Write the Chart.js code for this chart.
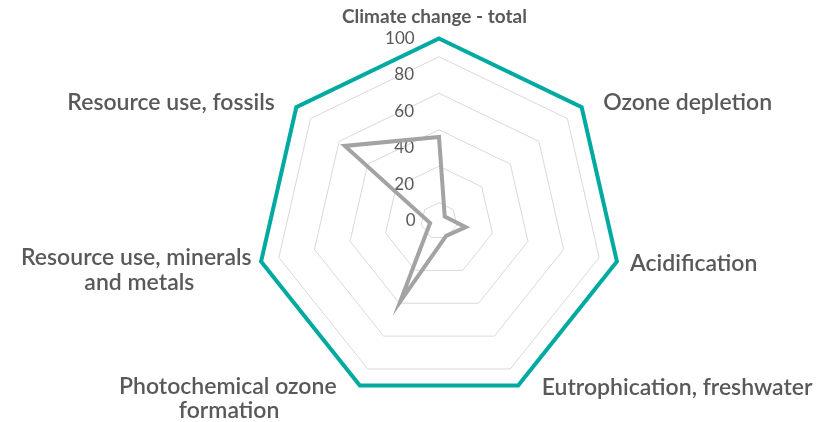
<!DOCTYPE html>
<html><head><meta charset="utf-8">
<script src="https://cdn.jsdelivr.net/npm/chart.js@4"></script>
<style>html,body{margin:0;padding:0;background:#fff;overflow:hidden;width:825px;height:422px}
#wrap{position:relative;width:825px;height:422px;overflow:hidden}
canvas{display:block;position:absolute;left:-20px;top:0}</style>
</head><body>
<div id="wrap"><canvas id="c" width="918" height="425"></canvas></div>
<script>
// ---- data ----
const categories = ['Climate change - total', 'Ozone depletion', 'Acidification', 'Eutrophication, freshwater', 'Photochemical ozone formation', 'Resource use, minerals and metals', 'Resource use, fossils'];
const categoryLines = [['Climate change - total'], ['Ozone depletion'], ['Acidification'], ['Eutrophication, freshwater'], ['Photochemical ozone', 'formation'], ['Resource use, minerals', 'and metals'], ['Resource use, fossils']];
const referenceValues = [100, 100, 100, 100, 100, 100, 100];
const productValues = [46, 4, 15, 9, 49, 5, 66];
const tickLabelValues = [0, 20, 40, 60, 80, 100];
const gridValues = [10, 30, 50, 70, 90];

// ---- styling / layout ----
const FAMILY = 'Lato, "Open Sans", sans-serif';
const TEXT = '#595959';
const labelStyle = [
  {size: 19, weight: 'bold', lh: '2px', pad: 13, lead: 0, trail: 11},
  {size: 23, weight: 600, lh: '2px', pad: -2, lead: 15, trail: 0},
  {size: 23, weight: 600, lh: '2px', pad: -5, lead: 10, trail: 0},
  {size: 23, weight: 600, lh: '2px', pad: -6, lead: 23, trail: 0},
  {size: 23, weight: 600, lh: '24px', pad: -20, lead: 0, trail: 30},
  {size: 23, weight: 600, lh: '25px', pad: -80, lead: 0, trail: 78},
  {size: 23, weight: 600, lh: '2px', pad: -2, lead: 0, trail: 16}
];
const TICK_SIZE = 17;
const TICK_GAP = 24;

const mctx = document.createElement('canvas').getContext('2d');
const NB = '\u00A0';
function spaces(px, font) {
  mctx.font = font;
  const sw = mctx.measureText(NB).width || 4;
  return NB.repeat(Math.max(0, Math.round(px / sw)));
}
function width(t, font) { mctx.font = font; return mctx.measureText(t).width; }

const pointLabels = categoryLines.map((lines, i) => {
  const s = labelStyle[i];
  const font = `${s.weight} ${s.size}px ${FAMILY}`;
  const ws = lines.map(l => width(l, font));
  const maxW = Math.max(...ws);
  const out = lines.map((l, j) => spaces(s.lead, font) + l + spaces(s.trail + (maxW - ws[j]) / 2, font));
  return out.length === 1 ? out[0] : out;
});

function tickText(v) {
  if (!tickLabelValues.includes(v)) return '';
  const font = `400 ${TICK_SIZE}px ${FAMILY}`;
  const t = String(v);
  return t + spaces(width(t, font) + 2 * TICK_GAP, font);
}

new Chart(document.getElementById('c'), {
  type: 'radar',
  data: {
    labels: pointLabels,
    datasets: [
      {label: 'Reference', data: referenceValues, borderColor: '#00AAA0', borderWidth: 4, pointRadius: 0, fill: false, borderJoinStyle: 'miter'},
      {label: 'Product', data: productValues, borderColor: '#A3A3A3', borderWidth: 4, pointRadius: 0, fill: false, borderJoinStyle: 'miter'}
    ]
  },
  options: {
    responsive: false,
    animation: false,
    layout: {padding: {top: 14, bottom: 0, left: 0, right: 0}},
    plugins: {legend: {display: false}, tooltip: {enabled: false}},
    elements: {line: {tension: 0}},
    scales: {
      r: {
        min: -0.0001,
        max: 100,
        afterBuildTicks: (scale) => {
          const vals = [...tickLabelValues, ...gridValues].sort((a, b) => a - b);
          scale.ticks = vals.map(v => ({value: v}));
        },
        angleLines: {display: false},
        grid: {
          lineWidth: 1,
          color: (c) => (c.tick && gridValues.includes(c.tick.value)) ? '#D9D9D9' : 'rgba(0,0,0,0)'
        },
        ticks: {
          display: true,
          showLabelBackdrop: false,
          backdropPadding: -1,
          color: TEXT,
          font: {family: FAMILY, size: TICK_SIZE, weight: 400},
          callback: (v) => tickText(v)
        },
        pointLabels: {
          display: true,
          color: TEXT,
          padding: (c) => labelStyle[c.index].pad,
          font: (c) => {
            const s = labelStyle[c.index];
            return {family: FAMILY, size: s.size, weight: s.weight, lineHeight: s.lh};
          }
        }
      }
    }
  }
});
</script>
</body></html>
